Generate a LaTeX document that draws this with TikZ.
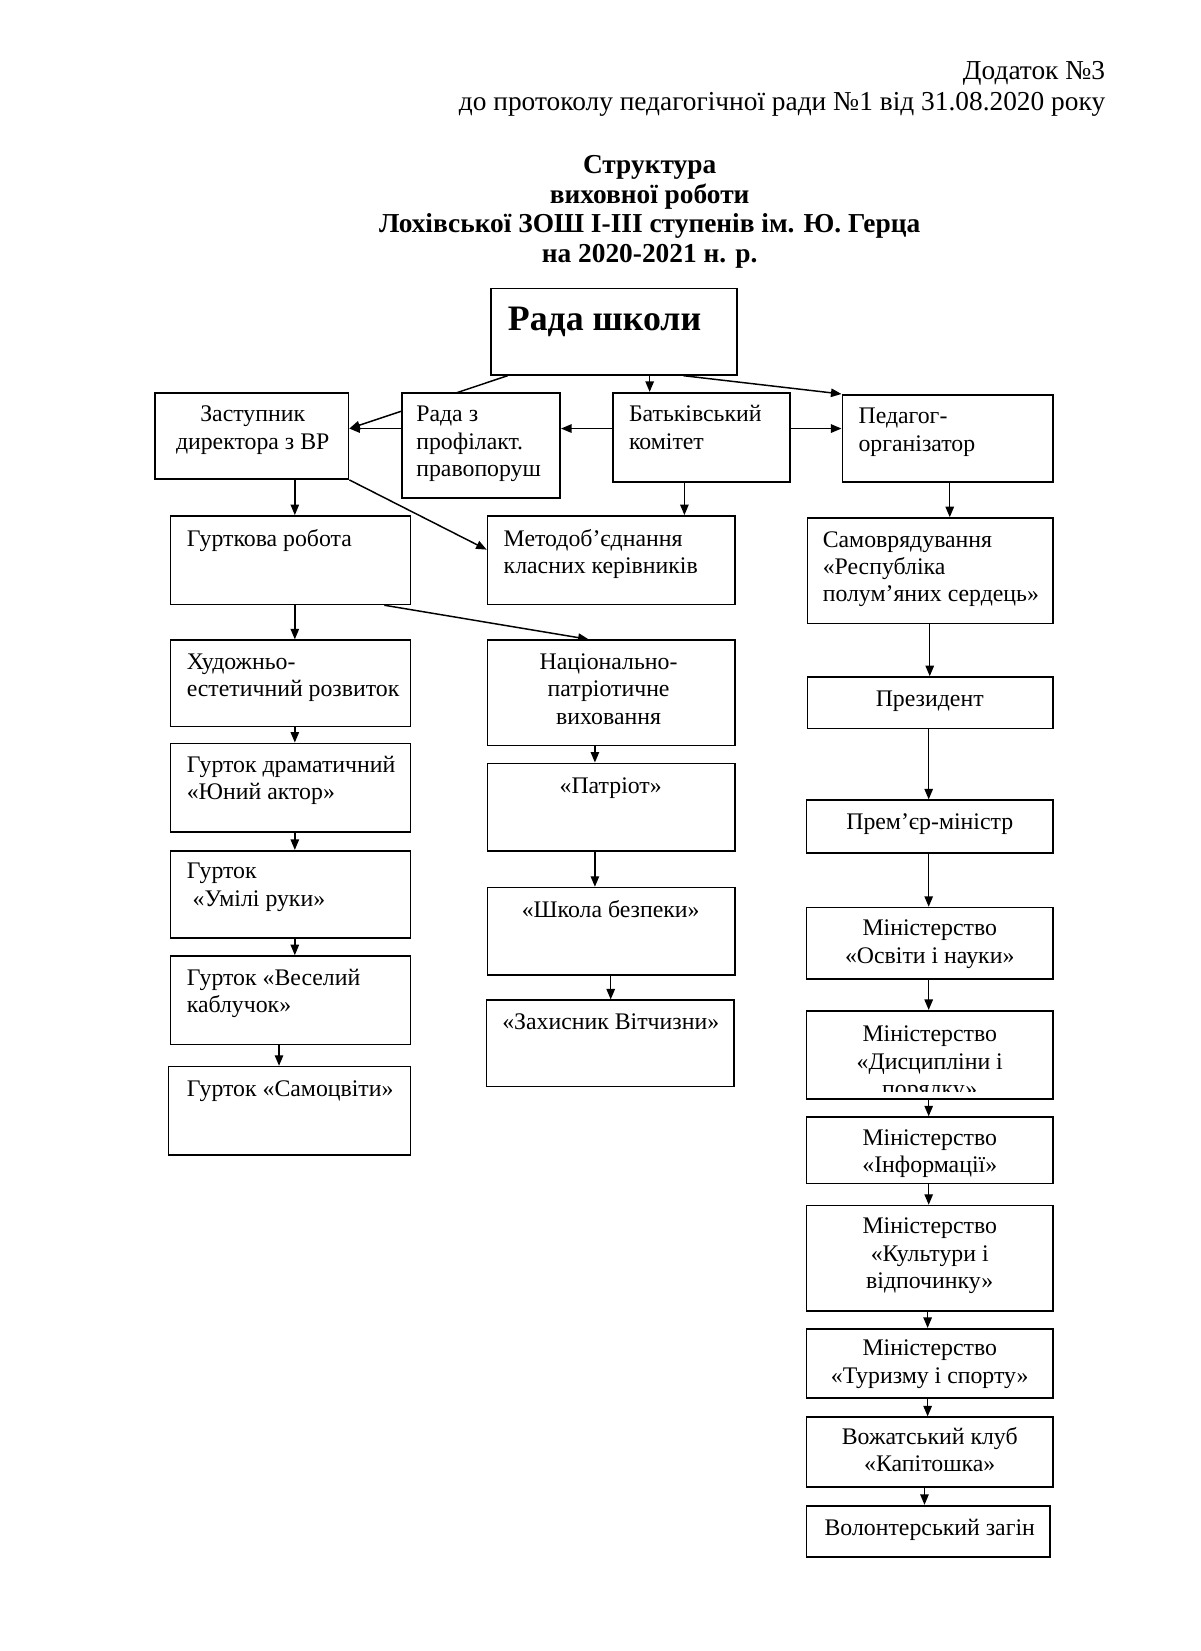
\documentclass[tikz,border=0pt]{standalone}
\usepackage{fontspec}
\setmainfont{Liberation Serif}
\usetikzlibrary{arrows.meta,fit,calc}
\pgfdeclarelayer{bg}
\pgfsetlayers{bg,main}
\newcommand\mkbox[5]{\node[box, fit={(#2,#3) (#4,#5)}] (#1) {};}
\begin{document}
\begin{tikzpicture}[x=0.5pt,y=-0.5pt,
  box/.style={draw, line width=0.8pt, fill=white, inner sep=0pt},
  txt/.style={inner sep=0pt, font=\fontsize{11.3}{13}\selectfont},
  txtl/.style={txt, anchor=north west, align=left},
  txtc/.style={txt, anchor=north, align=center},
  arr/.style={line width=0.7pt, -{Triangle[length=5pt,width=4pt]}}]
\useasboundingbox (0,0) rectangle (1140,1568);

% header and title
\node[inner sep=0pt, anchor=north east, align=right, font=\fontsize{13}{15}\selectfont] (hdr) at (1050,54)
  {\strut Додаток №3\\до протоколу педагогічної ради №1 від 31.08.2020 року};
\node[inner sep=0pt, anchor=north, align=center, font=\fontsize{13}{14}\selectfont\bfseries] (title) at (617,145)
  {\strut Структура\\виховної роботи\\Лохівської ЗОШ І-ІІІ ступенів ім. Ю. Герца\\на 2020-2021 н. р.};

% boxes
\mkbox{rada}{466}{274}{700}{356}
\mkbox{zast}{147}{373}{331}{455}
\mkbox{radaz}{382}{373}{532}{473}
\mkbox{batk}{582}{373}{750}{458}
\mkbox{ped}{800}{375}{1000}{458}
\mkbox{hurt}{162}{490}{390}{574}
\mkbox{metod}{463}{490}{698}{574}
\mkbox{samov}{767}{492}{1000}{592}
\mkbox{khud}{162}{608}{390}{690}
\mkbox{nats}{463}{608}{698}{708}
\mkbox{drama}{162}{706}{390}{790}
\mkbox{patriot}{463}{725}{698}{808}
\mkbox{umili}{162}{808}{390}{891}
\mkbox{shkola}{463}{843}{698}{926}
\mkbox{veselyi}{162}{908}{390}{992}
\mkbox{zakh}{462}{950}{697}{1032}
\mkbox{samotsv}{160}{1013}{390}{1097}
\mkbox{prez}{767}{643}{1000}{692}
\mkbox{prem}{766}{760}{1000}{810}
\mkbox{osv}{766}{862}{1000}{930}
\mkbox{dysc}{766}{960}{1000}{1044}
\mkbox{info}{766}{1061}{1000}{1124}
\mkbox{kult}{766}{1145}{1000}{1245}
\mkbox{tur}{766}{1262}{1000}{1328}
\mkbox{vozh}{766}{1346}{1000}{1412}
\mkbox{vol}{766}{1430}{997}{1479}

% texts
\node[inner sep=0pt, anchor=base west, font=\fontsize{17}{20}\selectfont\bfseries] (rada-t) at (482,314) {Рада школи};
\node[txtc] (zast-t) at (240,382) {\strut Заступник\\директора з ВР};
\node[txtl] (radaz-t) at (395,382) {\strut Рада з\\профілакт.\\правопоруш};
\node[txtl] (batk-t) at (597,382) {\strut Батьківський\\комітет};
\node[txtl] (ped-t) at (815,384) {\strut Педагог-\\організатор};
\node[txtl] (hurt-t) at (177,500) {\strut Гурткова робота};
\node[txtl] (metod-t) at (478,500) {\strut Методоб’єднання\\класних керівників};
\node[txtl] (samov-t) at (781,501) {\strut Самоврядування\\«Республіка\\полум’яних сердець»};
\node[txtl] (khud-t) at (177,617) {\strut Художньо-\\естетичний розвиток};
\node[txtc] (nats-t) at (578,617) {\strut Національно-\\патріотичне\\виховання};
\node[txtl] (drama-t) at (177,715) {\strut Гурток драматичний\\«Юний актор»};
\node[txtc] (patriot-t) at (580,735) {\strut «Патріот»};
\node[txtl] (umili-t) at (177,816) {\strut Гурток\\\hspace*{0.25em}«Умілі руки»};
\node[txtc] (shkola-t) at (580,853) {\strut «Школа безпеки»};
\node[txtl] (veselyi-t) at (177,917) {\strut Гурток «Веселий\\каблучок»};
\node[txtc] (zakh-t) at (580,959) {\strut «Захисник Вітчизни»};
\node[txtl] (samotsv-t) at (177,1023) {\strut Гурток «Самоцвіти»};
\node[txtc] (prez-t) at (883,652) {\strut Президент};
\node[txtc] (prem-t) at (883,769) {\strut Прем’єр-міністр};
\node[txtc] (osv-t) at (883,870) {\strut Міністерство\\«Освіти і науки»};
\begin{scope}
\clip ($(dysc.north west)+(1,1)$) rectangle ($(dysc.south east)+(-1,-8)$);
\node[txtc] (dysc-t) at (883,971) {\strut Міністерство\\«Дисципліни і\\порядку»};
\end{scope}
\node[txtc] (info-t) at (883,1069) {\strut Міністерство\\«Інформації»};
\node[txtc] (kult-t) at (883,1153) {\strut Міністерство\\«Культури і\\відпочинку»};
\node[txtc] (tur-t) at (883,1269) {\strut Міністерство\\«Туризму і спорту»};
\node[txtc] (vozh-t) at (883,1353) {\strut Вожатський клуб\\«Капітошка»};
\node[txtc] (vol-t) at (883,1440) {\strut Волонтерський загін};

% connectors
\begin{pgfonlayer}{bg}
\coordinate (yl) at (0,407);
\coordinate (y522) at (0,522);
\foreach \xx in {265,280,365,559,565,580,617,649,650,878,881,882,883,902}
  \coordinate (x\xx) at (\xx,0);
\draw[arr] ($(rada.south west)+(17,0)$) -- (zast.east |- yl);
\draw[arr] (batk.west |- yl) -- (radaz.east |- yl);
\draw[arr] (radaz.west |- yl) -- (zast.east |- yl);
\draw[arr] (rada.south -| x617) -- (batk.north -| x617);
\draw[arr] (rada.south -| x649) -- (ped.north west);
\draw[arr] (batk.east |- yl) -- (ped.west |- yl);
\draw[arr] (zast.south -| x280) -- (hurt.north -| x280);
\draw[arr] (zast.south east) -- (metod.west |- y522);
\draw[arr] (batk.south -| x650) -- (metod.north -| x650);
\draw[arr] (ped.south -| x902) -- (samov.north -| x902);
\draw[arr] (hurt.south -| x280) -- (khud.north -| x280);
\draw[arr] (hurt.south -| x365) -- (nats.north -| x559);
\draw[arr] (khud.south -| x280) -- (drama.north -| x280);
\draw[arr] (drama.south -| x280) -- (umili.north -| x280);
\draw[arr] (umili.south -| x280) -- (veselyi.north -| x280);
\draw[arr] (veselyi.south -| x265) -- (samotsv.north -| x265);
\draw[arr] (nats.south -| x565) -- (patriot.north -| x565);
\draw[arr] (patriot.south -| x565) -- (shkola.north -| x565);
\draw[arr] (shkola.south -| x580) -- (zakh.north -| x580);
\draw[arr] (samov.south -| x883) -- (prez.north -| x883);
\draw[arr] (prez.south -| x882) -- (prem.north -| x882);
\draw[arr] (prem.south -| x882) -- (osv.north -| x882);
\draw[arr] (osv.south -| x882) -- (dysc.north -| x882);
\draw[arr] (dysc.south -| x882) -- (info.north -| x882);
\draw[arr] (info.south -| x882) -- (kult.north -| x882);
\draw[arr] (kult.south -| x881) -- (tur.north -| x881);
\draw[arr] (tur.south -| x881) -- (vozh.north -| x881);
\draw[arr] (vozh.south -| x878) -- (vol.north -| x878);
\end{pgfonlayer}
\end{tikzpicture}
\end{document}
